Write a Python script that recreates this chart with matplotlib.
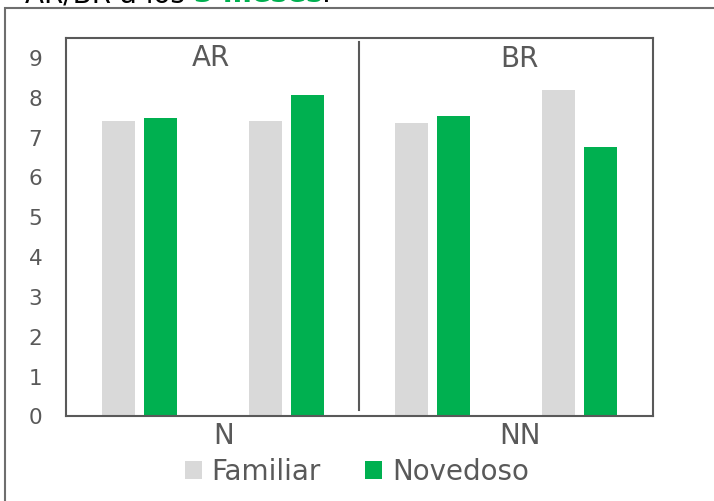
import numpy as np
import matplotlib
matplotlib.use("Agg")
import matplotlib.pyplot as plt
from matplotlib.patches import Rectangle

# medias por condicion (AR: N, NN / BR: N, NN)
grupos = ["AR", "BR"]
condiciones = ["N", "NN"]
familiar = [7.42, 7.42, 7.37, 8.19]
novedoso = [7.50, 8.06, 7.53, 6.77]
yticks = list(range(0, 10))

gris = "#D9D9D9"
verde = "#00B050"
texto = "#595959"

plt.rcParams["font.family"] = ["DejaVu Sans"]

fig = plt.figure(figsize=(7.14, 5.01), dpi=100)
ax = fig.add_axes([0.0924, 0.1687, 0.8222, 0.7555])

x = np.arange(len(familiar))
ancho = 0.225
sep = 0.143
ax.bar(x - sep, familiar, ancho, color=gris, label="Familiar")
ax.bar(x + sep, novedoso, ancho, color=verde, label="Novedoso")

ax.set_xlim(-0.5, len(familiar) - 0.5)
ax.set_ylim(0, 9.5)
ax.set_yticks(yticks)
ax.set_yticklabels([str(t) for t in yticks], fontsize=15.5, color=texto)
ax.tick_params(axis="y", length=0, pad=17)
ax.set_xticks([])
for s in ax.spines.values():
    s.set_color(texto)
    s.set_linewidth(1.5)

# separador entre AR y BR
ax.plot([1.5, 1.5], [0.17, 9.4], color=texto, lw=1.5, clip_on=False)

# etiquetas de grupo arriba y de condicion abajo
ax.text(0.49, 9.0, grupos[0], ha="center", va="center", fontsize=20, color=texto)
ax.text(2.59, 8.97, grupos[1], ha="center", va="center", fontsize=20, color=texto)
ax.text(0.577, -0.5, condiciones[0], ha="center", va="center", fontsize=20, color=texto)
ax.text(2.594, -0.5, condiciones[1], ha="center", va="center", fontsize=20, color=texto)

leg = fig.legend(loc="center", bbox_to_anchor=(0.5, 0.058), ncol=2, frameon=False,
                 fontsize=20, handlelength=0.6, handleheight=0.6, handletextpad=0.35,
                 columnspacing=1.6)
for t in leg.get_texts():
    t.set_color(texto)

# marco exterior del grafico
fig.patches.append(Rectangle((4.5 / 714, -0.1), 1.2, 1 - 8 / 501 + 0.1,
                             transform=fig.transFigure, fill=False,
                             edgecolor="#6E6E6E", lw=1.5))

# titulo cortado arriba
ybase = 1.0 - 2.5 / 501
t1 = fig.text(0.035, ybase, "AR/BR a los ", ha="left", va="baseline",
              fontsize=20, color="black")
fig.canvas.draw()
bb = t1.get_window_extent()
t2 = fig.text(bb.x1 / 714, ybase, "3 meses", ha="left", va="baseline",
              fontsize=20, color=verde, fontweight="bold")
fig.canvas.draw()
bb2 = t2.get_window_extent()
fig.text(bb2.x1 / 714, ybase, ".", ha="left", va="baseline",
         fontsize=20, color="black")

fig.savefig("out.png", dpi=100)
